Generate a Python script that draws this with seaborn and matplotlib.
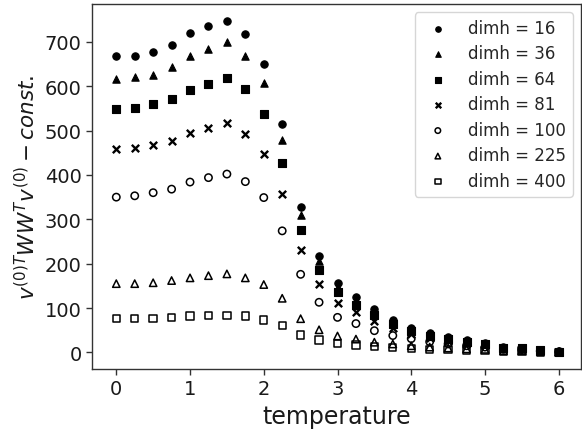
import matplotlib
matplotlib.use("Agg")
import matplotlib.pyplot as plt
import seaborn as sns
import pandas as pd

# temperature grid and measured quantity for each hidden dimension
temperature = [0.0, 0.25, 0.5, 0.75, 1.0, 1.25, 1.5, 1.75, 2.0, 2.25, 2.5, 2.75, 3.0,
               3.25, 3.5, 3.75, 4.0, 4.25, 4.5, 4.75, 5.0, 5.25, 5.5, 5.75, 6.0]

dimh_16 = [667, 668, 678, 693, 719, 736, 748, 717, 651, 514, 328, 217, 156,
           124, 98, 73, 56, 44, 35, 28, 22, 12, 11, 6, 3]
dimh_36 = [616, 620, 626, 643, 667, 685, 699, 667, 608, 478, 310, 205, 147,
           116, 91, 68, 52, 41, 32, 26, 20, 11, 10, 5, 3]
dimh_64 = [549, 551, 559, 572, 591, 604, 618, 593, 537, 426, 276, 185, 136,
           107, 85, 63, 49, 38, 30, 24, 19, 10, 9, 5, 2]
dimh_81 = [459, 460, 467, 477, 495, 505, 516, 492, 447, 358, 230, 155, 112,
           90, 71, 55, 42, 33, 26, 21, 16, 9, 8, 4, 2]
dimh_100 = [350, 353, 360, 368, 384, 394, 402, 385, 349, 274, 176, 113, 79,
            65, 49, 38, 31, 24, 19, 15, 12, 7, 6, 3, 1]
dimh_225 = [155, 155, 157, 162, 168, 173, 177, 168, 153, 122, 76, 51, 37,
            30, 23, 19, 15, 12, 10, 8, 7, 4, 4, 2, 1]
dimh_400 = [77, 77, 77, 79, 82, 83, 83, 82, 73, 60, 39, 28, 20,
            17, 13, 11, 9, 7, 6, 5, 4, 3, 3, 1, 0]

dimh_labels = ["dimh = 16", "dimh = 36", "dimh = 64", "dimh = 81",
               "dimh = 100", "dimh = 225", "dimh = 400"]
series = [dimh_16, dimh_36, dimh_64, dimh_81, dimh_100, dimh_225, dimh_400]

# marker, filled?
styles = [("o", True), ("^", True), ("s", True), ("x", True),
          ("o", False), ("^", False), ("s", False)]

sns.set_style("ticks")
plt.rcParams["font.family"] = ["DejaVu Sans"]
plt.rcParams["mathtext.fontset"] = "dejavusans"

fig = plt.figure(figsize=(5.82, 4.31), dpi=100)
ax = fig.add_axes([0.158, 0.1415, 0.840, 0.847])

for label, values, (marker, filled) in zip(dimh_labels, series, styles):
    df = pd.DataFrame({"temperature": temperature, "value": values})
    if marker == "x":
        sns.scatterplot(data=df, x="temperature", y="value", marker="x",
                        color="black", s=28, linewidth=1.7, label=label, ax=ax)
    elif filled:
        sns.scatterplot(data=df, x="temperature", y="value", marker=marker,
                        facecolor="black", edgecolor="black", s=28,
                        linewidth=0.8, label=label, ax=ax)
    else:
        sns.scatterplot(data=df, x="temperature", y="value", marker=marker,
                        facecolor="none", edgecolor="black", s=28,
                        linewidth=1.1, label=label, ax=ax)

ax.set_xlim(-0.33, 6.3)
ax.set_ylim(-37.4, 785.4)
ax.set_xticks([0, 1, 2, 3, 4, 5, 6])
ax.set_yticks([0, 100, 200, 300, 400, 500, 600, 700])
ax.tick_params(labelsize=14, length=4, width=1, color="#333333", labelcolor="#1a1a1a")
for sp in ax.spines.values():
    sp.set_color("#333333")
    sp.set_linewidth(1.0)

ax.set_xlabel("temperature", fontsize=17, color="#1a1a1a")
ax.set_ylabel(r"$v^{(0)T}WW^Tv^{(0)}-const.$", fontsize=15.5, color="#1a1a1a")

ax.legend(loc="upper right", fontsize=12, markerscale=0.75, labelspacing=0.45,
          handletextpad=0.8, frameon=True)

fig.savefig("out.png", dpi=100)
